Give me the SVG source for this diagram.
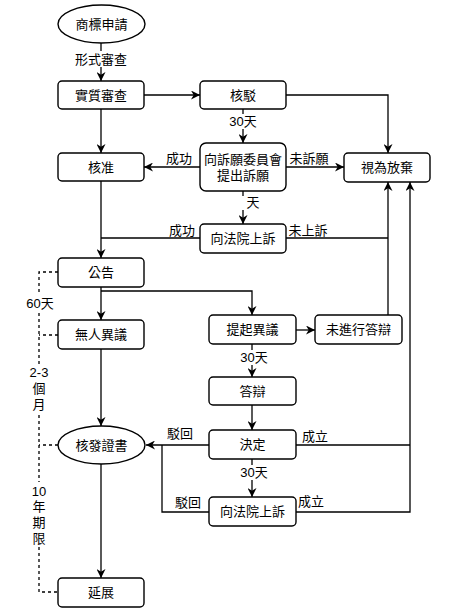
<svg xmlns="http://www.w3.org/2000/svg" width="467" height="612" viewBox="0 0 467 612">
<style>
.n{fill:#fff;stroke:#000;stroke-width:1.4}
.t{font-family:"Liberation Sans","Noto Sans CJK TC",sans-serif;font-size:13px;fill:#000;text-anchor:middle;dominant-baseline:central}
.e{fill:none;stroke:#000;stroke-width:1.3}
.d{fill:none;stroke:#000;stroke-width:1.3;stroke-dasharray:3 3}
.bg{fill:#fff}
</style>
<defs>
<marker id="a" viewBox="0 0 10 10" refX="10" refY="5" markerWidth="9" markerHeight="9" markerUnits="userSpaceOnUse" orient="auto">
<path d="M0,0 L10,5 L0,10 L3,5 z" fill="#000"/>
</marker>
</defs>
<rect width="467" height="612" fill="#fff"/>
<g id="connectors">
<path class="e" d="M101,43 V81" marker-end="url(#a)"/>
<path class="e" d="M144,95 H200" marker-end="url(#a)"/>
<path class="e" d="M101,109 V153" marker-end="url(#a)"/>
<path class="e" d="M286,95 H388 V153" marker-end="url(#a)"/>
<path class="e" d="M243,109 V143" marker-end="url(#a)"/>
<path class="e" d="M200,167 H144" marker-end="url(#a)"/>
<path class="e" d="M286,167 H344" marker-end="url(#a)"/>
<path class="e" d="M243,191 V224" marker-end="url(#a)"/>
<path class="e" d="M200,238 H101"/>
<path class="e" d="M286,238 H388"/>
<path class="e" d="M101,181 V258" marker-end="url(#a)"/>
<path class="e" d="M101,287 V320" marker-end="url(#a)"/>
<path class="e" d="M101,291 H252 V315" marker-end="url(#a)"/>
<path class="e" d="M296,330 H315" marker-end="url(#a)"/>
<path class="e" d="M388,315 V182" marker-end="url(#a)"/>
<path class="e" d="M252,344 V377" marker-end="url(#a)"/>
<path class="e" d="M252,405 V430" marker-end="url(#a)"/>
<path class="e" d="M209,445 H146" marker-end="url(#a)"/>
<path class="e" d="M296,445 H410"/>
<path class="e" d="M252,459 V497" marker-end="url(#a)"/>
<path class="e" d="M209,512 H162 V445"/>
<path class="e" d="M296,512 H410 V182" marker-end="url(#a)"/>
<path class="e" d="M101,349 V426" marker-end="url(#a)"/>
<path class="e" d="M101,464 V578" marker-end="url(#a)"/>
<path class="d" d="M58,272 H39 V592 H58 M58,335 H39 M58,445 H39"/>
<rect class="bg" x="75" y="51" width="52" height="16"/>
<text class="t" x="101" y="59">形式審查</text>
<rect class="bg" x="229" y="114" width="28" height="15"/>
<text class="t" x="243" y="121">30天</text>
<rect class="bg" x="236" y="196" width="24" height="14"/>
<text class="t" x="253" y="202">天</text>
<rect class="bg" x="242" y="350" width="24" height="15"/>
<text class="t" x="254" y="357">30天</text>
<rect class="bg" x="242" y="465" width="24" height="15"/>
<text class="t" x="254" y="472">30天</text>
<text class="t" x="179" y="158">成功</text>
<text class="t" x="309" y="158">未訴願</text>
<text class="t" x="308" y="230">未上訴</text>
<text class="t" x="182" y="230">成功</text>
<text class="t" x="180" y="433">駁回</text>
<text class="t" x="188" y="502">駁回</text>
<text class="t" x="315" y="436">成立</text>
<text class="t" x="311" y="501">成立</text>
<rect class="bg" x="26" y="295" width="28" height="16"/>
<text class="t" x="40" y="303">60天</text>
<rect class="bg" x="29" y="364" width="20" height="48"/>
<text class="t" x="39" y="372">2-3</text>
<text class="t" x="39" y="388">個</text>
<text class="t" x="39" y="404">月</text>
<rect class="bg" x="29" y="482" width="20" height="64"/>
<text class="t" x="39" y="491">10</text>
<text class="t" x="39" y="506">年</text>
<text class="t" x="39" y="522">期</text>
<text class="t" x="39" y="538">限</text>
</g>
<g id="n1"><ellipse class="n" cx="101.5" cy="24" rx="43.5" ry="19"/><text class="t" x="101.5" y="24">商標申請</text></g>
<g id="n2"><rect class="n" x="58" y="81" width="86" height="28" rx="4"/><text class="t" x="101" y="95">實質審查</text></g>
<g id="n3"><rect class="n" x="200" y="81" width="86" height="28" rx="4"/><text class="t" x="243" y="95">核駁</text></g>
<g id="n4"><rect class="n" x="58" y="153" width="86" height="28" rx="4"/><text class="t" x="101" y="167">核准</text></g>
<g id="n5"><rect class="n" x="200" y="143" width="86" height="48" rx="6"/><text class="t" x="243" y="159">向訴願委員會</text><text class="t" x="243" y="175">提出訴願</text></g>
<g id="n6"><rect class="n" x="344" y="153" width="86" height="29" rx="4"/><text class="t" x="387" y="167.5">視為放棄</text></g>
<g id="n7"><rect class="n" x="200" y="224" width="86" height="29" rx="4"/><text class="t" x="243" y="238.5">向法院上訴</text></g>
<g id="n8"><rect class="n" x="58" y="258" width="86" height="29" rx="4"/><text class="t" x="101" y="272.5">公告</text></g>
<g id="n9"><rect class="n" x="58" y="320" width="86" height="29" rx="4"/><text class="t" x="101" y="334.5">無人異議</text></g>
<g id="n10"><rect class="n" x="209" y="315" width="87" height="29" rx="4"/><text class="t" x="252.5" y="329.5">提起異議</text></g>
<g id="n11"><rect class="n" x="315" y="315" width="87" height="29" rx="4"/><text class="t" x="358.5" y="329.5">未進行答辯</text></g>
<g id="n12"><rect class="n" x="209" y="377" width="87" height="28" rx="4"/><text class="t" x="252.5" y="391">答辯</text></g>
<g id="n13"><rect class="n" x="209" y="430" width="87" height="29" rx="4"/><text class="t" x="252.5" y="444.5">決定</text></g>
<g id="n14"><rect class="n" x="209" y="497" width="87" height="29" rx="4"/><text class="t" x="252.5" y="511.5">向法院上訴</text></g>
<g id="n15"><ellipse class="n" cx="101.5" cy="445" rx="43.5" ry="19"/><text class="t" x="101.5" y="445">核發證書</text></g>
<g id="n16"><rect class="n" x="58" y="578" width="86" height="29" rx="4"/><text class="t" x="101" y="592.5">延展</text></g>
</svg>
